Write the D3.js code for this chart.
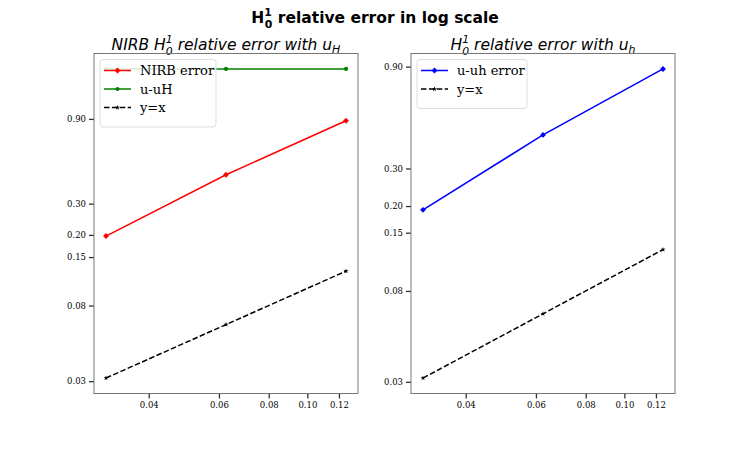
<!DOCTYPE html>
<html>
<head>
<meta charset="utf-8">
<script src="https://cdn.jsdelivr.net/npm/d3@7"></script>
<style>
  body { margin: 0; background: #fff; }
  svg { display: block; }
  .tick text { font-family: "DejaVu Serif", serif; font-size: 8.5px; fill: #000; }
</style>
</head>
<body>
<svg width="750" height="450"></svg>
<script>
// data
const hValues = [0.03125, 0.0625, 0.125];
const nirbError = [0.197, 0.436, 0.879];
const uuHError = [1.72, 1.72, 1.72];
const uuhError = [0.192, 0.431, 0.878];
const yEqualsX = [0.03125, 0.0625, 0.125];
const xTicks = [0.04, 0.06, 0.08, 0.10, 0.12];
const yTicks = [0.03, 0.08, 0.15, 0.20, 0.30, 0.90];

const svg = d3.select("svg");

// H with stacked ^1 and _0, returns the dy needed to get back to the baseline
function mathH(sel, size) {
  sel.append("tspan").text("H");
  sel.append("tspan").attr("dy", -size * 0.42).attr("font-size", size * 0.7).text("1");
  sel.append("tspan").attr("dx", -size * 0.44).attr("dy", size * 0.72).attr("font-size", size * 0.7).text("0");
  return -size * 0.3;
}

const title = svg.append("text")
  .attr("x", 375).attr("y", 23)
  .attr("text-anchor", "middle")
  .attr("font-family", "DejaVu Sans")
  .attr("font-weight", "bold")
  .attr("font-size", 15.5);
let back = mathH(title, 15.5);
title.append("tspan").attr("dy", back).text(" relative error in log scale");

// log-space margins like matplotlib (5%)
function logDomain(vals) {
  const lo = Math.log(d3.min(vals)), hi = Math.log(d3.max(vals));
  const m = (hi - lo) * 0.05;
  return [Math.exp(lo - m), Math.exp(hi + m)];
}

function markerPath(kind) {
  if (kind === "diamond") return d3.symbol(d3.symbolDiamond2, 22)();
  if (kind === "circle") return d3.symbol(d3.symbolCircle, 14)();
  return d3.symbol(d3.symbolStar, 8)();
}

function panel(left, series, titleParts) {
  const top = 53.5, bottom = 393.5, width = 264;
  const g = svg.append("g");

  const x = d3.scaleLog().domain(logDomain(hValues)).range([left, left + width]);
  const allY = series.flatMap(s => s.values);
  const y = d3.scaleLog().domain(logDomain(allY)).range([bottom, top]);

  // subplot title
  const t = g.append("text")
    .attr("x", left + width / 2).attr("y", 50)
    .attr("text-anchor", "middle")
    .attr("font-family", "DejaVu Sans")
    .attr("font-style", "italic")
    .attr("font-size", 15.5);
  if (titleParts.prefix) t.append("tspan").text(titleParts.prefix);
  const b = mathH(t, 15.5);
  t.append("tspan").attr("dy", b).text(" relative error with u");
  t.append("tspan").attr("dy", 3).attr("font-size", 11).text(titleParts.sub);

  // axes
  const xAxis = d3.axisBottom(x).tickValues(xTicks).tickFormat(d3.format(".2f")).tickSize(5).tickPadding(3);
  const gx = g.append("g").attr("transform", `translate(0,${bottom})`).call(xAxis);
  const yAxis = d3.axisLeft(y).tickValues(yTicks).tickFormat(d3.format(".2f")).tickSize(5).tickPadding(3);
  const gy = g.append("g").attr("transform", `translate(${left},0)`).call(yAxis);
  [gx, gy].forEach(a => {
    a.select(".domain").remove();
    a.selectAll(".tick line").attr("stroke", "#333").attr("stroke-width", 1.3);
  });

  g.append("rect")
    .attr("x", left).attr("y", top)
    .attr("width", width).attr("height", bottom - top)
    .attr("fill", "none").attr("stroke", "#777").attr("stroke-width", 1);

  const line = d3.line().x((d, i) => x(hValues[i])).y(d => y(d));

  series.forEach(s => {
    g.append("path")
      .datum(s.values)
      .attr("d", line)
      .attr("fill", "none")
      .attr("stroke", s.color)
      .attr("stroke-width", 1.5)
      .attr("stroke-dasharray", s.dash || null);
    g.selectAll(null)
      .data(s.values)
      .enter()
      .append("path")
      .attr("transform", (d, i) => `translate(${x(hValues[i])},${y(d)})`)
      .attr("d", markerPath(s.marker))
      .attr("fill", s.color);
  });

  // legend
  const lx = left + 6, ly = top + 6;
  const legW = series.length === 3 ? 116 : 110;
  const lg = g.append("g");
  lg.append("rect")
    .attr("x", lx).attr("y", ly)
    .attr("width", legW).attr("height", 12 + series.length * 18.5)
    .attr("rx", 3)
    .attr("fill", "#fff").attr("fill-opacity", 0.85)
    .attr("stroke", "#ddd");
  series.forEach((s, i) => {
    const yy = ly + 11 + i * 18.5;
    lg.append("line")
      .attr("x1", lx + 4).attr("x2", lx + 31)
      .attr("y1", yy).attr("y2", yy)
      .attr("stroke", s.color).attr("stroke-width", 1.5)
      .attr("stroke-dasharray", s.dash || null);
    lg.append("path")
      .attr("transform", `translate(${lx + 17.5},${yy})`)
      .attr("d", markerPath(s.marker))
      .attr("fill", s.color);
    lg.append("text")
      .attr("x", lx + 40).attr("y", yy + 4.5)
      .attr("font-family", "DejaVu Serif")
      .attr("font-size", 13)
      .text(s.label);
  });
}

panel(94, [
  { label: "NIRB error", values: nirbError, color: "#ff0000", marker: "diamond" },
  { label: "u-uH", values: uuHError, color: "#008000", marker: "circle" },
  { label: "y=x", values: yEqualsX, color: "#000", marker: "star", dash: "5.5,2.4" }
], { prefix: "NIRB ", sub: "H" });

panel(411, [
  { label: "u-uh error", values: uuhError, color: "#0000ff", marker: "diamond" },
  { label: "y=x", values: yEqualsX, color: "#000", marker: "star", dash: "5.5,2.4" }
], { prefix: "", sub: "h" });
</script>
</body>
</html>
